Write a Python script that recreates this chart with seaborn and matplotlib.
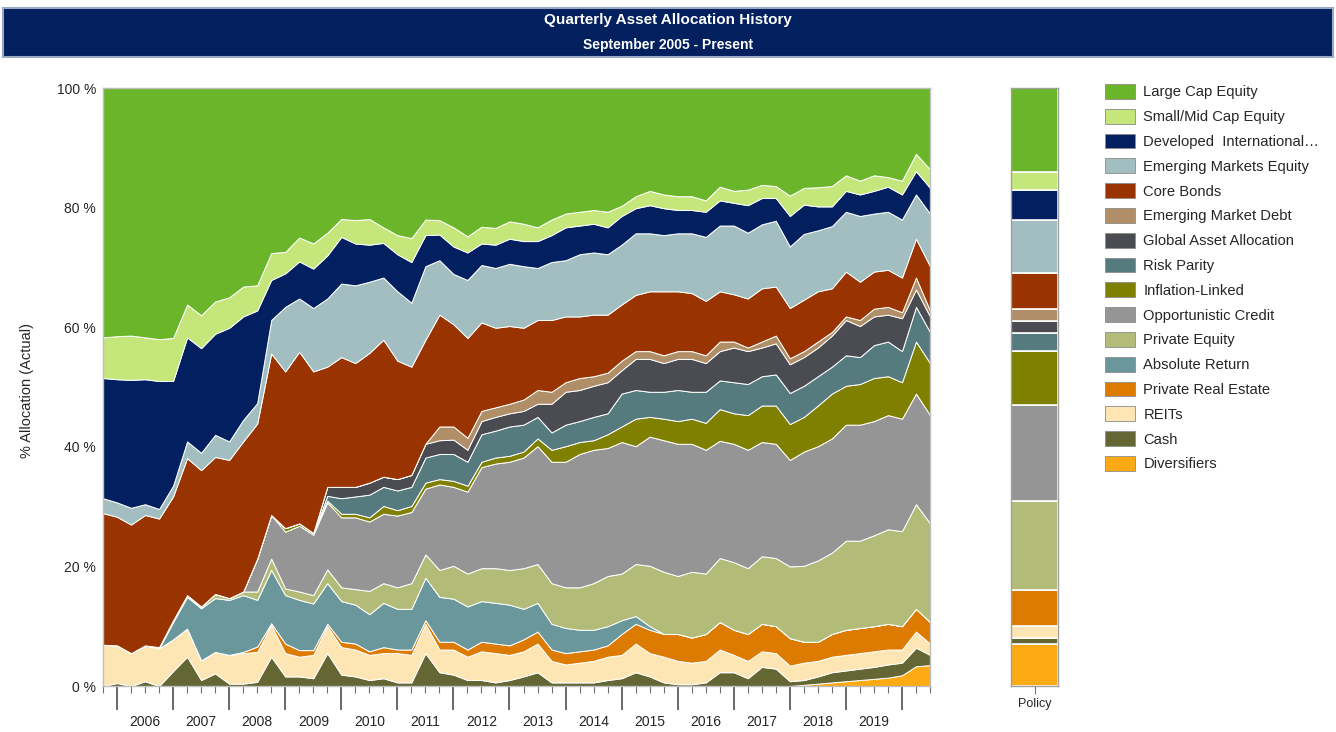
import numpy as np
import pandas as pd
import matplotlib
matplotlib.use("Agg")
import matplotlib.pyplot as plt
import matplotlib.patches as mpatches
import matplotlib.transforms as mtransforms
import seaborn as sns

# quarterly points, Sep 2005 (0) .. Jun 2020 (59)
quarters = list(range(60))
year_labels = [str(y) for y in range(2006, 2020)]

diversifiers = [0, 0, 0, 0, 0, 0, 0, 0, 0, 0, 0, 0, 0, 0, 0, 0, 0, 0, 0, 0,
                0, 0, 0, 0, 0, 0, 0, 0, 0, 0, 0, 0, 0, 0, 0, 0, 0, 0, 0, 0,
                0, 0, 0, 0, 0, 0, 0, 0, 0, 0, 0.2, 0.4, 0.6, 0.8, 1.0, 1.2, 1.4, 1.8, 3.3, 3.5]
cash = [0, 0.5, 0, 0.8, 0, 2.5, 4.9, 1.0, 2.1, 0.4, 0.4, 0.7, 4.9, 1.6, 1.6, 1.3, 5.5, 1.9, 1.6, 1.0,
        1.3, 0.6, 0.6, 5.5, 2.3, 1.9, 1.0, 1.0, 0.6, 1.0, 1.6, 2.3, 0.6, 0.6, 0.6, 0.6, 1.0, 1.3, 2.3, 1.6,
        0.6, 0.3, 0.3, 0.6, 2.3, 2.3, 1.3, 3.2, 2.9, 0.8, 0.8, 1.2, 1.7, 1.8, 1.9, 2.0, 2.2, 2.1, 3.1, 1.7]
reits = [6.9, 6.3, 5.5, 6.0, 6.3, 5.3, 4.7, 3.3, 3.6, 4.8, 5.1, 5.0, 5.3, 3.9, 3.3, 3.9, 4.5, 4.6, 4.5, 4.2,
         4.2, 4.9, 4.6, 4.9, 3.8, 4.2, 3.9, 4.8, 4.9, 4.2, 4.2, 4.8, 3.6, 3.0, 3.3, 3.6, 3.9, 3.9, 4.8, 3.9,
         4.3, 3.9, 3.6, 3.6, 3.8, 2.9, 2.9, 2.6, 2.6, 2.6, 2.9, 2.6, 2.6, 2.6, 2.6, 2.6, 2.5, 2.2, 2.7, 1.9]
private_real_estate = [0, 0, 0, 0, 0, 0, 0, 0, 0, 0, 0.2, 0.9, 0.3, 1.6, 1.1, 0.8, 0.4, 0.9, 1.0, 0.6,
                       1.0, 0.6, 0.9, 0.6, 1.3, 1.3, 1.2, 1.6, 1.6, 1.6, 2.0, 2.0, 1.9, 1.9, 1.9, 1.9, 1.9, 3.5, 3.3, 3.9,
                       3.8, 4.5, 4.2, 4.5, 4.6, 4.2, 4.5, 4.6, 4.5, 4.6, 3.5, 3.2, 3.8, 4.2, 4.2, 4.2, 4.3, 3.9, 3.8, 3.6]
absolute_return = [0, 0, 0, 0, 0, 2.9, 5.3, 8.7, 9.0, 9.2, 9.5, 7.8, 8.9, 8.1, 8.4, 7.8, 6.8, 6.8, 6.5, 6.2,
                   7.4, 6.8, 6.8, 7.1, 7.5, 7.2, 7.2, 6.8, 6.8, 6.8, 5.1, 4.8, 4.3, 4.2, 3.6, 3.3, 3.2, 2.3, 1.3, 0.6,
                   0, 0, 0, 0, 0, 0, 0, 0, 0, 0, 0, 0, 0, 0, 0, 0, 0, 0, 0, 0]
private_equity = [0, 0, 0, 0, 0.2, 0.3, 0.3, 0.3, 0.7, 0.3, 0.6, 1.4, 1.9, 1.1, 1.4, 1.4, 2.3, 2.3, 2.6, 3.9,
                  3.3, 3.6, 4.3, 3.9, 4.5, 5.5, 5.5, 5.5, 5.8, 5.8, 6.8, 6.5, 6.8, 6.8, 7.1, 7.8, 8.4, 7.8, 8.7, 10.1,
                  10.4, 9.7, 11.0, 10.1, 10.7, 11.3, 11.0, 11.3, 11.4, 12.0, 12.7, 13.6, 13.6, 14.9, 14.6, 15.2, 15.8, 15.9, 17.5, 16.5]
opportunistic_credit = [0, 0, 0, 0, 0, 0, 0, 0, 0, 0, 0, 5.5, 7.3, 9.5, 11.0, 10.1, 11.2, 11.7, 12.0, 11.6,
                        11.6, 12.0, 11.9, 11.0, 14.3, 13.2, 13.7, 16.9, 17.5, 18.1, 18.5, 19.7, 20.3, 21.0, 22.3, 22.3, 21.4, 22.0, 19.7, 21.6,
                        22.0, 22.1, 21.4, 20.7, 19.6, 19.8, 19.8, 19.1, 19.1, 17.8, 19.1, 19.1, 19.1, 19.4, 19.4, 19.1, 19.1, 18.8, 18.5, 18.1]
inflation_linked = [0, 0, 0, 0, 0, 0, 0, 0, 0, 0, 0, 0, 0, 0.6, 0.4, 0.3, 0.3, 0.6, 0.6, 0.7,
                    1.3, 0.9, 1.0, 1.0, 0.9, 1.0, 1.0, 0.9, 1.0, 1.0, 1.0, 1.3, 2.0, 2.6, 2.0, 1.6, 2.3, 2.6, 4.6, 3.3,
                    3.6, 3.8, 4.2, 4.5, 5.3, 5.1, 5.8, 6.1, 6.4, 6.0, 5.8, 6.8, 7.5, 6.5, 6.8, 7.2, 6.5, 6.1, 8.7, 8.7]
risk_parity = [0, 0, 0, 0, 0, 0, 0, 0, 0, 0, 0, 0, 0, 0, 0, 0, 0.8, 2.6, 2.9, 3.8,
               3.2, 3.3, 3.2, 4.2, 4.2, 4.5, 4.0, 4.6, 4.5, 4.9, 4.5, 3.6, 2.9, 3.6, 3.5, 3.9, 3.5, 5.5, 4.8, 4.2,
               4.5, 5.2, 4.5, 5.2, 4.8, 5.2, 5.2, 4.9, 5.2, 5.2, 5.2, 4.9, 4.5, 5.1, 4.5, 5.5, 5.8, 5.2, 5.8, 5.2]
global_asset_allocation = [0, 0, 0, 0, 0, 0, 0, 0, 0, 0, 0, 0, 0, 0, 0, 0, 1.5, 1.9, 1.6, 2.0,
                           1.7, 1.9, 2.0, 2.3, 2.3, 2.4, 2.0, 2.2, 2.3, 2.2, 2.3, 2.2, 4.8, 5.5, 5.2, 5.2, 5.2, 3.9, 5.2, 5.5,
                           4.8, 5.2, 5.5, 4.8, 4.9, 5.8, 5.5, 4.8, 5.2, 4.8, 4.8, 4.8, 5.2, 5.9, 5.2, 4.8, 4.5, 5.5, 2.9, 2.6]
emerging_market_debt = [0, 0, 0, 0, 0, 0, 0, 0, 0, 0, 0, 0, 0, 0, 0, 0, 0, 0, 0, 0,
                        0, 0, 0, 0, 2.3, 2.2, 2.0, 1.7, 1.6, 1.6, 1.9, 2.3, 2.0, 1.6, 2.0, 1.6, 1.6, 1.6, 1.3, 1.3,
                        1.3, 1.3, 1.3, 1.3, 1.6, 1.0, 0.6, 1.0, 1.3, 1.0, 1.0, 1.0, 0.6, 0.6, 1.0, 1.3, 1.3, 1.0, 2.0, 1.0]
core_bonds = [22.0, 21.5, 21.5, 21.8, 21.5, 20.7, 22.9, 22.8, 22.9, 23.1, 25.1, 22.6, 27.0, 26.2, 28.7, 27.0, 20.1, 21.7, 20.7, 21.7,
              22.9, 19.8, 18.1, 17.4, 18.7, 17.1, 16.7, 14.8, 13.3, 13.0, 12.0, 11.7, 12.0, 11.0, 10.3, 10.3, 9.7, 9.4, 9.4, 10.0,
              10.7, 10.0, 9.7, 9.1, 8.4, 7.9, 8.2, 8.9, 8.2, 8.4, 8.6, 8.4, 7.3, 7.5, 6.4, 6.2, 6.2, 5.8, 6.5, 7.4]
emerging_markets_equity = [2.5, 2.4, 2.8, 1.8, 1.6, 1.8, 2.8, 2.9, 3.7, 3.1, 3.6, 3.4, 5.6, 10.8, 8.9, 10.6, 11.4, 12.3, 13.0, 11.9,
                           10.4, 11.6, 10.7, 12.3, 9.1, 8.4, 9.7, 9.6, 10.0, 10.4, 10.3, 8.7, 9.7, 9.4, 10.4, 10.4, 10.1, 10.0, 10.3, 9.7,
                           9.4, 9.7, 10.0, 10.7, 11.0, 11.5, 11.0, 10.7, 11.0, 10.3, 11.0, 10.2, 10.4, 10.0, 11.0, 9.7, 9.7, 9.7, 7.4, 8.8]
developed_international = [20.1, 20.6, 21.4, 20.9, 21.4, 17.5, 17.4, 17.5, 16.9, 19.0, 17.3, 15.5, 6.7, 5.6, 6.2, 6.6, 7.2, 7.8, 7.0, 6.2,
                           5.8, 6.2, 6.8, 5.2, 4.3, 4.6, 4.6, 3.6, 3.9, 4.2, 4.2, 4.5, 4.5, 5.5, 4.8, 4.8, 4.5, 4.8, 4.2, 4.7,
                           4.5, 3.9, 3.9, 4.2, 4.2, 3.8, 4.6, 4.4, 3.8, 5.1, 4.9, 4.0, 3.3, 3.5, 3.6, 3.8, 4.2, 4.2, 3.9, 4.3]
small_mid_cap_equity = [6.8, 7.2, 7.4, 7.0, 7.0, 7.2, 5.5, 5.5, 5.4, 5.1, 5.0, 4.2, 4.5, 3.6, 4.0, 4.2, 3.8, 3.0, 3.9, 4.3,
                        2.6, 3.2, 4.0, 2.6, 2.4, 3.2, 2.7, 2.8, 2.8, 2.9, 2.9, 2.3, 2.6, 2.3, 2.3, 2.3, 2.6, 1.7, 2.0, 2.4,
                        2.3, 2.3, 2.3, 1.9, 2.3, 2.0, 2.6, 2.2, 2.0, 3.4, 2.8, 3.2, 3.4, 2.6, 2.3, 2.6, 1.6, 2.3, 2.9, 3.1]
large_cap_equity = [41.7, 41.5, 41.4, 41.7, 42.0, 41.8, 36.2, 38.0, 35.7, 35.0, 33.2, 33.0, 27.6, 27.4, 25.0, 26.0, 24.2, 21.9, 22.1, 21.9,
                    23.3, 24.6, 25.1, 22.0, 22.1, 23.3, 24.8, 23.2, 23.4, 22.3, 22.7, 23.3, 22.0, 21.0, 20.7, 20.4, 20.7, 19.7, 18.1, 17.2,
                    17.8, 18.1, 18.1, 18.8, 16.5, 17.2, 17.0, 16.2, 16.4, 18.0, 16.7, 16.6, 16.4, 14.6, 15.5, 14.6, 14.9, 15.5, 11.0, 13.6]

# policy targets, bottom to top
policy = [7, 1, 2, 6, 0, 15, 16, 9, 3, 2, 2, 6, 9, 5, 3, 14]

asset_classes = ["Diversifiers", "Cash", "REITs", "Private Real Estate", "Absolute Return",
                 "Private Equity", "Opportunistic Credit", "Inflation-Linked", "Risk Parity",
                 "Global Asset Allocation", "Emerging Market Debt", "Core Bonds",
                 "Emerging Markets Equity", "Developed  International\u2026",
                 "Small/Mid Cap Equity", "Large Cap Equity"]
colors = ["#FDAA15", "#646633", "#FEE6B4", "#DC7B00", "#6A979B", "#B2BC78", "#959595",
          "#7F7F00", "#567B7E", "#4B4C52", "#B08E68", "#993300", "#A2BEC1", "#022060",
          "#C4E67A", "#6BB52A"]

df = pd.DataFrame({
    "Diversifiers": diversifiers, "Cash": cash, "REITs": reits,
    "Private Real Estate": private_real_estate, "Absolute Return": absolute_return,
    "Private Equity": private_equity, "Opportunistic Credit": opportunistic_credit,
    "Inflation-Linked": inflation_linked, "Risk Parity": risk_parity,
    "Global Asset Allocation": global_asset_allocation,
    "Emerging Market Debt": emerging_market_debt, "Core Bonds": core_bonds,
    "Emerging Markets Equity": emerging_markets_equity,
    "Developed  International\u2026": developed_international,
    "Small/Mid Cap Equity": small_mid_cap_equity, "Large Cap Equity": large_cap_equity,
}, index=quarters)

sns.set_theme(style="white")
plt.rcParams["font.family"] = ["Liberation Sans", "DejaVu Sans"]
text_col = "#262626"

W, H = 1336, 732
fig = plt.figure(figsize=(W / 100, H / 100), dpi=100)

# title banner
fig.patches.append(mpatches.Rectangle((3 / W, 1 - 57 / H), 1330 / W, 49 / H,
                                      transform=fig.transFigure, facecolor="#02205E",
                                      edgecolor="#9AA8C4", lw=1.5))
fig.text(0.5, 1 - 20 / H, "Quarterly Asset Allocation History", color="white",
         fontsize=11, fontweight="bold", ha="center", va="center")
fig.text(0.5, 1 - 45 / H, "September 2005 - Present", color="white",
         fontsize=10, fontweight="bold", ha="center", va="center")

# main stacked area
ax = fig.add_axes([103 / W, 1 - 686 / H, 827 / W, 598 / H])
ax.stackplot(df.index, *[df[c] for c in asset_classes], colors=colors,
             edgecolor="white", linewidth=0.7)
ax.set_xlim(0, 59)
ax.set_ylim(0, 100)
ax.set_yticks(range(0, 101, 20))
ax.set_yticklabels([f"{v} %" for v in range(0, 101, 20)], fontsize=10, color=text_col)
ax.tick_params(axis="y", length=0, pad=5)
ax.set_xticks(list(range(1, 58, 4)))
ax.set_xticks(quarters, minor=True)
ax.set_xticklabels([])
ax.tick_params(axis="x", which="major", length=17, width=1.1, color="#404040", bottom=True)
ax.tick_params(axis="x", which="minor", length=5, width=0.8, color="#707070", bottom=True)
for s in ax.spines.values():
    s.set_color("#BEBEBE")
    s.set_linewidth(1)
trans = mtransforms.blended_transform_factory(ax.transData, ax.transAxes)
for i, lab in enumerate(year_labels):
    ax.text(3 + 4 * i, -0.06, lab, transform=trans, ha="center", va="center",
            fontsize=10, color=text_col)
fig.text(27 / W, 1 - 390 / H, "% Allocation (Actual)", rotation=90, ha="center",
         va="center", fontsize=10.5, color=text_col)

# policy bar
pax = fig.add_axes([1011 / W, 1 - 686 / H, 47 / W, 598 / H])
bottom = 0
for val, col in zip(policy, colors):
    pax.bar(0, val, bottom=bottom, width=1, color=col, edgecolor="white", linewidth=1.2)
    bottom += val
pax.set_xlim(-0.5, 0.5)
pax.set_ylim(0, 100)
pax.set_yticks([])
pax.set_xticks([0])
pax.set_xticklabels(["Policy"], fontsize=9, color=text_col)
pax.tick_params(axis="x", length=6, width=0.8, color="#707070", bottom=True, pad=3)
for s in pax.spines.values():
    s.set_color("#A0A0A0")
    s.set_linewidth(1)

# legend, top to bottom
handles = [mpatches.Patch(facecolor=c, edgecolor="#8C8C8C", linewidth=0.6, label=n)
           for n, c in zip(asset_classes[::-1], colors[::-1])]
fig.legend(handles=handles, loc="upper left", bbox_to_anchor=(1105 / W, 1 - 84 / H),
           frameon=False, fontsize=10.6, handlelength=2.05, handleheight=1.17,
           handletextpad=0.55, labelspacing=0.64, borderpad=0, borderaxespad=0,
           labelcolor=text_col)

fig.savefig("out.png", dpi=100)
